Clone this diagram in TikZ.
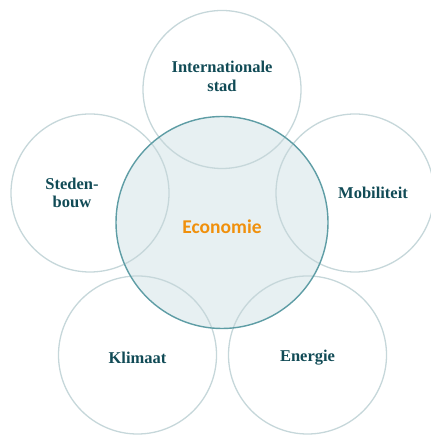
\documentclass[tikz,border=0pt]{standalone}
\usepackage{fontspec}
\setmainfont{Liberation Serif}
\newfontfamily\econfont{Carlito}
\usepackage{tikz}
\definecolor{ringgrey}{HTML}{C6D7DA}
\definecolor{coreline}{HTML}{5E9DA5}
\definecolor{corefill}{HTML}{E7F0F2}
\definecolor{labelteal}{HTML}{114B56}
\definecolor{econorange}{HTML}{F0900C}
\tikzset{
	ring/.style={circle, draw=ringgrey, line width=1.3pt, minimum size=158pt, inner sep=0pt},
	core/.style={circle, line width=1.4pt, minimum size=212pt, inner sep=0pt},
	ringlabel/.style={font=\fontsize{16.5}{18.5}\selectfont\bfseries, text=labelteal, align=center},
}

\begin{document}
\begin{tikzpicture}[x=1pt, y=1pt]
		%%%%% START %%%%%
		\useasboundingbox (0, 0) rectangle (430, 435);
		
		\node[core, fill=corefill] (corefill) at (222, 212.5) {};
		
		\node[ring] (stad) at (222, 345.5) {};
		\node[ring] (bouw) at (90, 242) {};
		\node[ring] (mobi) at (355, 242) {};
		\node[ring] (klim) at (137.5, 80) {};
		\node[ring] (ener) at (307.5, 80) {};
		
		\node[core, draw=coreline] (econ) at (222, 212.5) {};
		
		\node[ringlabel] (stadtxt) at (222, 358.5) {Internationale\\stad};
		\node[ringlabel] (bouwtxt) at (72, 242) {Steden-\\bouw};
		\node[ringlabel] (mobitxt) at (373, 242) {Mobiliteit};
		\node[ringlabel] (klimtxt) at (137.5, 77) {Klimaat};
		\node[ringlabel] (enertxt) at (307.5, 77) {Energie};
		
		\node[font=\econfont\fontsize{19.5}{22}\selectfont\bfseries, text=econorange] (econtxt) at (222, 208) {Economie};
		
		%%%%% END %%%%%
	\end{tikzpicture}
\end{document}
